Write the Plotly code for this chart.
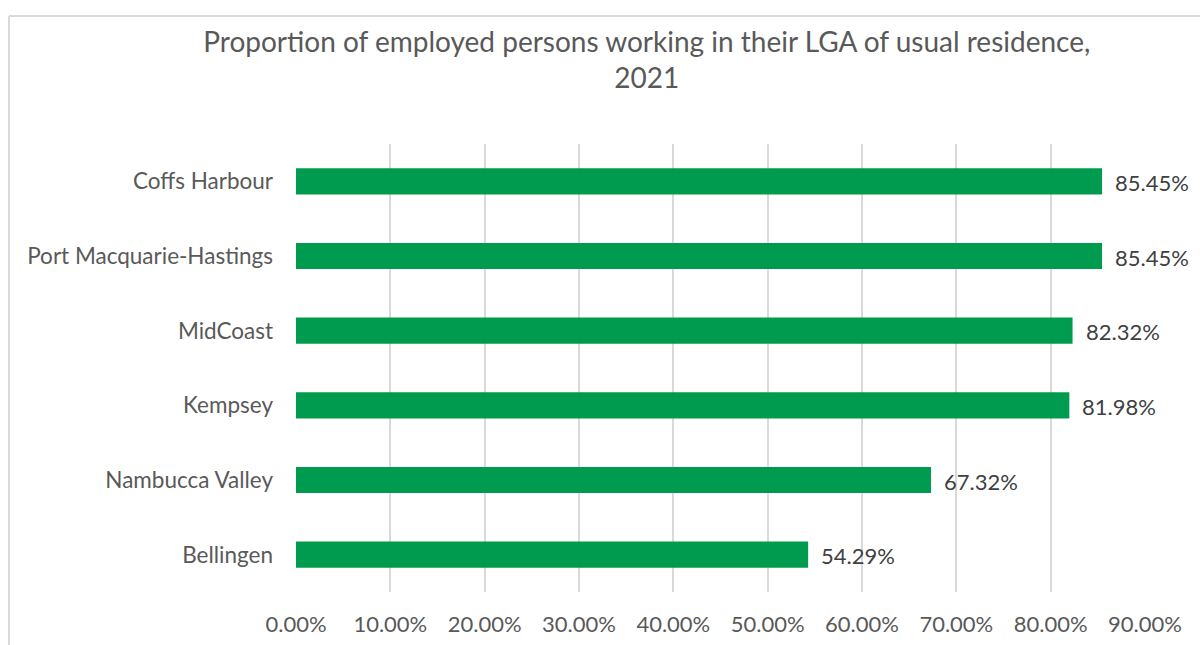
import plotly.graph_objects as go

# LGAs, listed top to bottom
lgas = ["Coffs Harbour", "Port Macquarie-Hastings", "MidCoast",
        "Kempsey", "Nambucca Valley", "Bellingen"]
# Share of employed residents working in their own LGA (%)
share_pct = [85.45, 85.45, 82.32, 81.98, 67.32, 54.29]

tick_vals = [0, 10, 20, 30, 40, 50, 60, 70, 80, 90]
tick_text = [f"{v:.2f}%" for v in tick_vals]

FONT = "Lato"
BAR_GREEN = "#009B4F"
GRID = "#D9D9D9"

fig = go.Figure(go.Bar(
    x=share_pct,
    y=lgas,
    orientation="h",
    width=0.35,
    marker=dict(color=BAR_GREEN, line=dict(width=0)),
    hoverinfo="skip",
))

# value labels just past each bar end
for name, v in zip(lgas, share_pct):
    fig.add_annotation(
        x=v, y=name, xref="x", yref="y",
        text=f"{v:.2f}%", showarrow=False,
        xanchor="left", xshift=11, yshift=-1,
        font=dict(family=FONT, size=22, color="#404040"),
    )

# light frame around the chart area
fig.add_shape(type="line", xref="paper", yref="paper",
              x0=-0.338, x1=1.1, y0=1.2857, y1=1.2857,
              line=dict(color=GRID, width=2))
fig.add_shape(type="line", xref="paper", yref="paper",
              x0=-0.338, x1=-0.338, y0=1.2857, y1=-0.2,
              line=dict(color=GRID, width=2))

fig.update_layout(
    width=1200, height=645,
    margin=dict(l=296, r=55, t=144, b=53),
    paper_bgcolor="white", plot_bgcolor="white",
    showlegend=False,
    title=dict(
        text="Proportion of employed persons working in their LGA of usual residence,<br>2021",
        x=0.539, xanchor="center", xref="container",
        y=0.92, yanchor="top", yref="container",
        font=dict(family=FONT, size=28, color="#595959"),
    ),
    xaxis=dict(
        range=[0, 90],
        tickvals=tick_vals, ticktext=tick_text,
        showgrid=True, gridcolor=GRID, gridwidth=2,
        zeroline=False, showline=False, ticks="",
        ticklabelstandoff=17, automargin=False,
        tickfont=dict(family=FONT, size=22, color="#595959"),
    ),
    yaxis=dict(
        autorange="reversed",
        showgrid=False, zeroline=False, showline=False, ticks="",
        ticklabelstandoff=22, automargin=False,
        tickfont=dict(family=FONT, size=22.5, color="#595959"),
    ),
)

fig.write_html("out.html")
